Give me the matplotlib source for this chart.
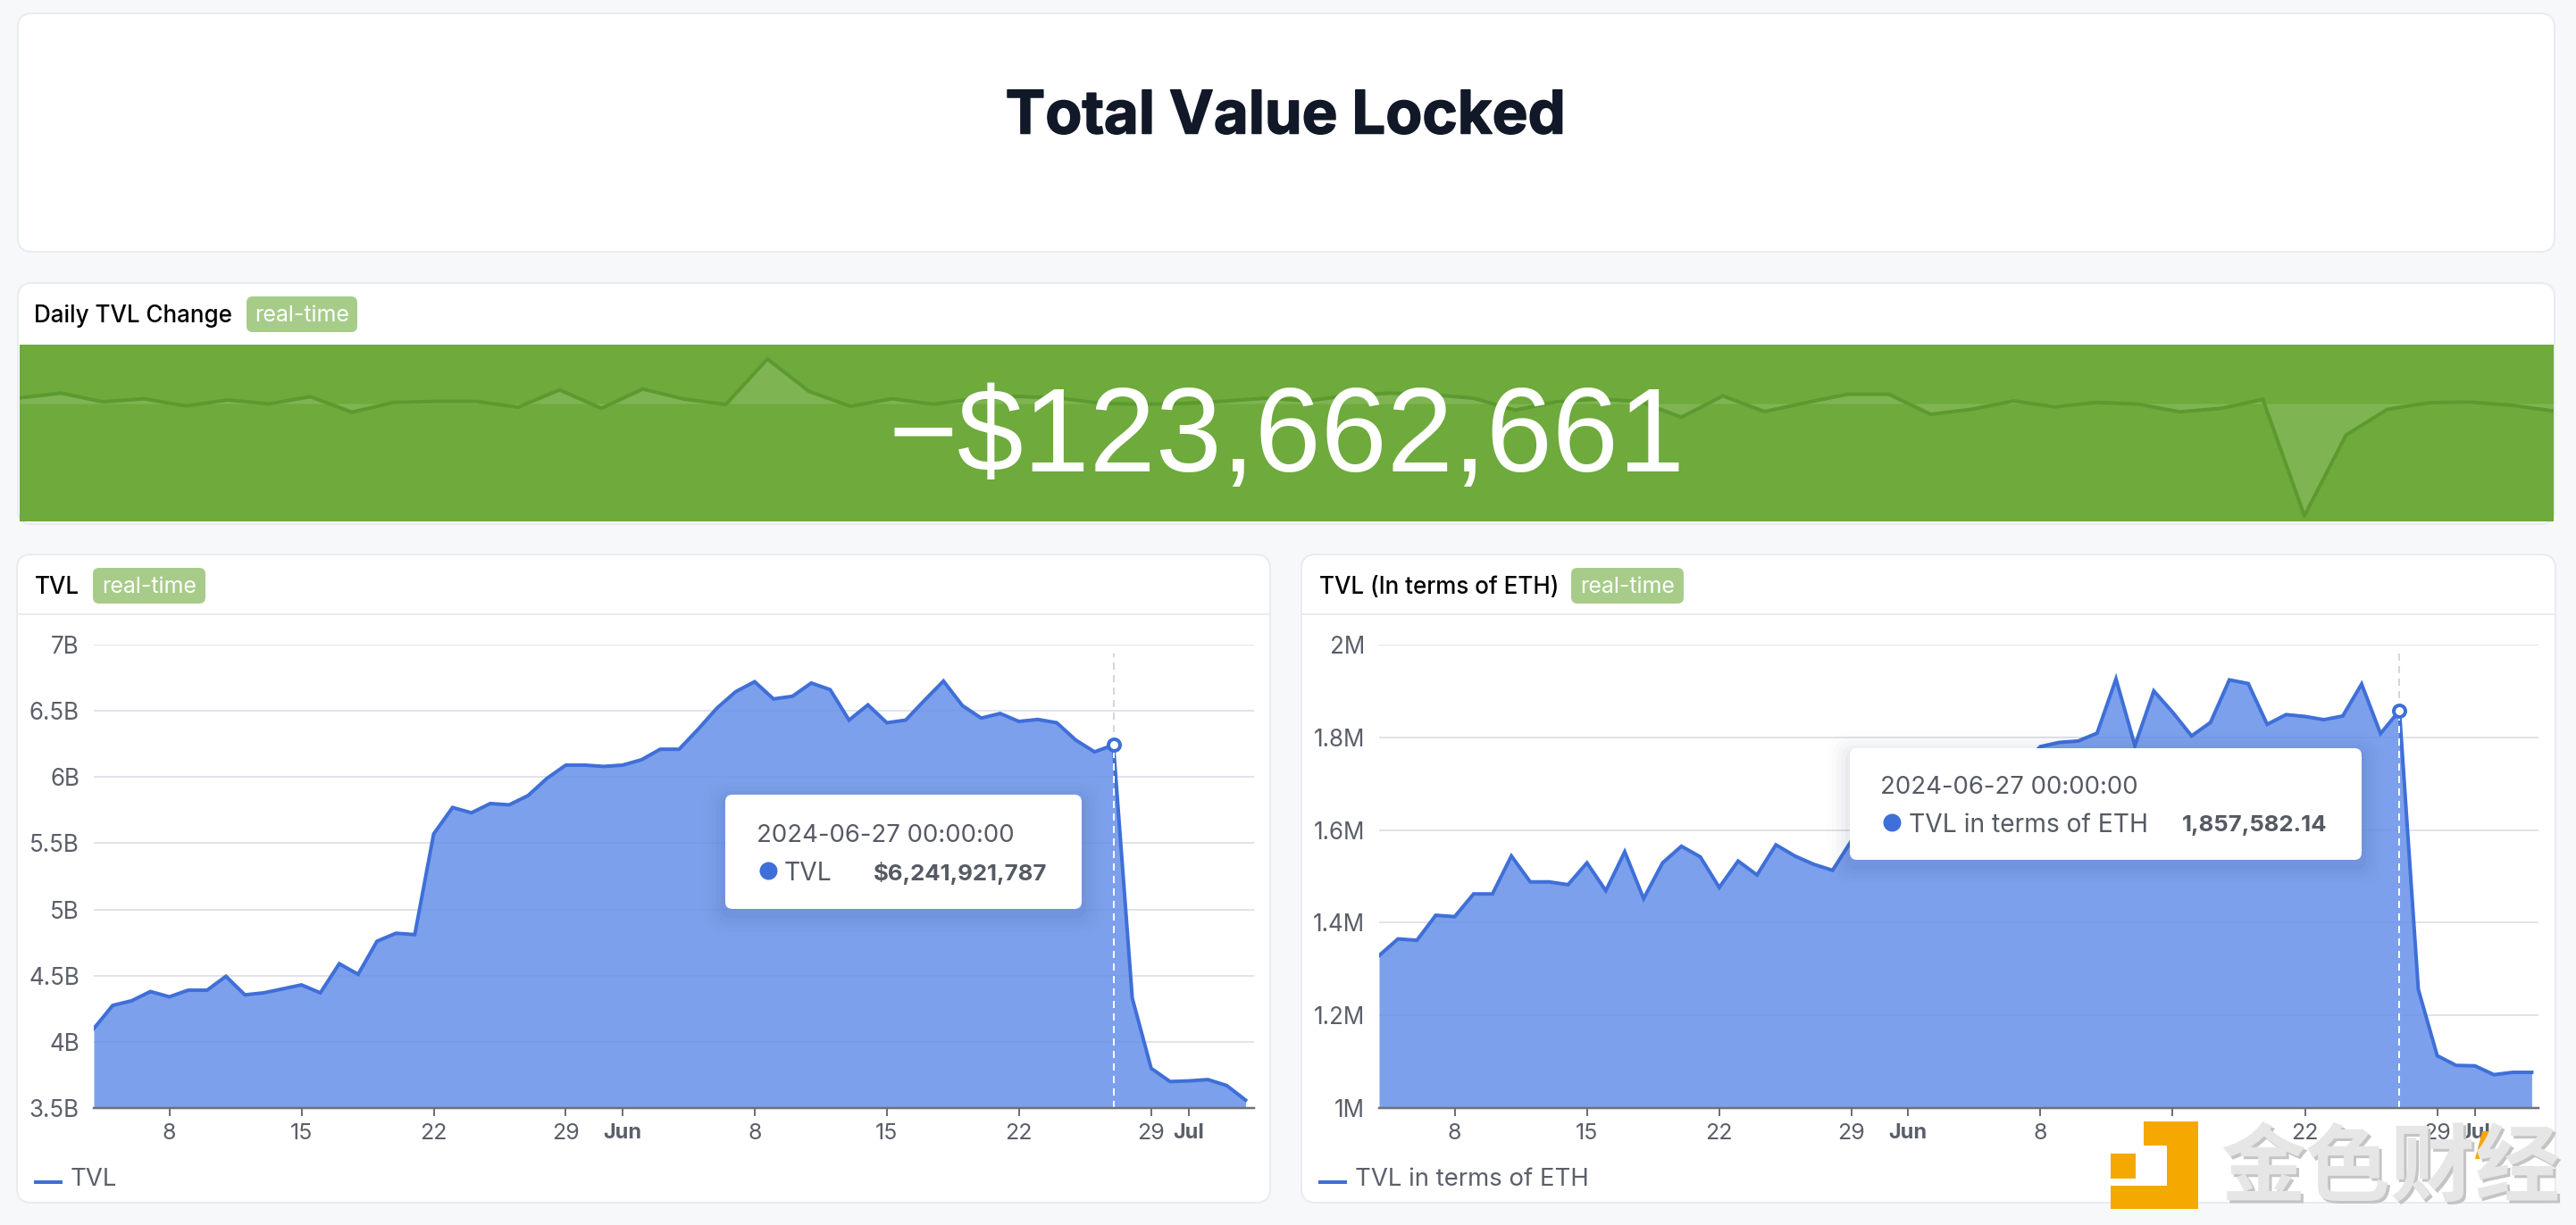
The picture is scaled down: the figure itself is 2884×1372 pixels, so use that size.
"""
Total Value Locked dashboard: one sparkline banner and two area charts.
"""

import matplotlib
matplotlib.use("Agg")
import matplotlib.patheffects as pe
import matplotlib.pyplot as plt
import pandas as pd
from matplotlib.patches import FancyBboxPatch, Polygon, Rectangle

W, H = 2884, 1372

plt.rcParams["font.family"] = ["Inter", "Noto Sans CJK SC", "DejaVu Sans"]

# ---------------------------------------------------------------------
#  Data
# ---------------------------------------------------------------------
dates = pd.date_range("2024-05-04", periods=62, freq="D")

# daily change, $M
daily_change = [
    96, 177, 30, 81, -40, 61, -5, 116, -146, 20, 35, 35, -61, 232, -81, 247,
    76, -15, 757, 207, -45, 81, -10, 81, 121, 96, 5, -10, 0, 40, 91, 45, 141,
    177, 152, 91, -111, 30, 76, 35, -232, 131, -136, 15, 157, 157, -182, -96,
    45, -55, 20, -10, -141, -81, 71, -1904, -535, -96, 15, 25, -30, -126,
]

# TVL, $B
tvl = [
    4.10, 4.275, 4.31, 4.38, 4.34, 4.39, 4.39, 4.495, 4.355, 4.37, 4.40, 4.43,
    4.37, 4.59, 4.51, 4.76, 4.82, 4.81, 5.57, 5.77, 5.73, 5.80, 5.79, 5.86,
    5.99, 6.09, 6.09, 6.08, 6.09, 6.13, 6.21, 6.21, 6.36, 6.52, 6.645, 6.72,
    6.59, 6.61, 6.71, 6.66, 6.43, 6.545, 6.41, 6.43, 6.58, 6.725, 6.54, 6.445,
    6.48, 6.42, 6.435, 6.41, 6.28, 6.19, 6.2419, 4.33, 3.80, 3.70, 3.705,
    3.715, 3.67, 3.56,
]

# TVL in ETH, millions (indices 26-35 sit behind the tooltip, so rough)
tvl_eth = [
    1.329, 1.365, 1.362, 1.416, 1.413, 1.462, 1.462, 1.544, 1.488, 1.488,
    1.482, 1.529, 1.469, 1.553, 1.452, 1.529, 1.565, 1.542, 1.476, 1.533,
    1.503, 1.568, 1.544, 1.526, 1.513, 1.577, 1.60, 1.65, 1.63, 1.66, 1.68,
    1.67, 1.70, 1.72, 1.74, 1.78, 1.789, 1.792, 1.809, 1.926, 1.782, 1.900,
    1.854, 1.803, 1.832, 1.924, 1.916, 1.828, 1.849, 1.845, 1.838, 1.846,
    1.915, 1.808, 1.8576, 1.256, 1.113, 1.092, 1.091, 1.072, 1.077, 1.077,
]

tvl_ticks = [3.5, 4, 4.5, 5, 5.5, 6, 6.5, 7]
tvl_tick_labels = ["3.5B", "4B", "4.5B", "5B", "5.5B", "6B", "6.5B", "7B"]
eth_ticks = [1, 1.2, 1.4, 1.6, 1.8, 2]
eth_tick_labels = ["1M", "1.2M", "1.4M", "1.6M", "1.8M", "2M"]

date_ticks = pd.to_datetime([
    "2024-05-08", "2024-05-15", "2024-05-22", "2024-05-29", "2024-06-01",
    "2024-06-08", "2024-06-15", "2024-06-22", "2024-06-29", "2024-07-01",
])
date_labels = ["8", "15", "22", "29", "Jun", "8", "15", "22", "29", "Jul"]
hover_date = pd.Timestamp("2024-06-27")

# ---------------------------------------------------------------------
#  Colours
# ---------------------------------------------------------------------
PAGE = "#f7f8fa"
BORDER = "#e9ebf0"
GREEN = "#6eaa3c"
SPARK = "#5c9a30"
BADGE = "#a7cc8a"
BLUE = "#3f6fd8"
FILL = "#6b93ea"
GRID = "#e0e3ea"
AXIS = "#6e7079"
TEXT = "#5a5f69"


def pt(px):
    return px * 0.72


fig = plt.figure(figsize=(W / 100, H / 100), dpi=100, facecolor=PAGE)

# pixel canvas for the cards, drawn under the charts
bg = fig.add_axes([0, 0, 1, 1], zorder=0)
bg.set_xlim(0, W)
bg.set_ylim(H, 0)
bg.axis("off")

# pixel canvas for tooltips and watermark, drawn over the charts
top = fig.add_axes([0, 0, 1, 1], zorder=5)
top.set_xlim(0, W)
top.set_ylim(H, 0)
top.axis("off")
top.patch.set_alpha(0)


def rounded(ax, x0, y0, x1, y1, radius, **kw):
    box = FancyBboxPatch((x0 + radius, y0 + radius),
                         x1 - x0 - 2 * radius, y1 - y0 - 2 * radius,
                         boxstyle=f"round,pad={radius},rounding_size={radius}",
                         **kw)
    ax.add_patch(box)


def card(x0, y0, x1, y1):
    rounded(bg, x0, y0, x1, y1, 16, facecolor="white", edgecolor=BORDER,
            linewidth=pt(2))


def header(x, y, title, badge_x0, badge_x1):
    bg.text(x, y + 3, title, fontsize=pt(26), fontweight="medium",
            color="black", ha="left", va="center")
    rounded(bg, badge_x0, y - 19, badge_x1, y + 21, 7, facecolor=BADGE,
            edgecolor="none")
    bg.text((badge_x0 + badge_x1) / 2, y + 3, "real-time", fontsize=pt(25),
            color="white", ha="center", va="center")


# ---------------------------------------------------------------------
#  Cards
# ---------------------------------------------------------------------
card(20, 15, 2860, 282)
bg.text(1439, 132, "Total Value Locked", fontsize=pt(67), fontweight="bold",
        color="#111827", ha="center", va="center",
        path_effects=[pe.withStroke(linewidth=pt(1.5), foreground="#111827")])

card(20, 317, 2860, 587)
header(38, 351, "Daily TVL Change", 276, 400)

card(19, 621, 1422, 1347)
bg.plot([21, 1420], [688, 688], color=BORDER, lw=pt(2))
header(39, 655, "TVL", 104, 230)

card(1457, 621, 2861, 1347)
bg.plot([1459, 2859], [688, 688], color=BORDER, lw=pt(2))
header(1477, 655, "TVL (In terms of ETH)", 1759, 1885)


# ---------------------------------------------------------------------
#  Banner
# ---------------------------------------------------------------------
def px_axes(x0, y0, x1, y1):
    return fig.add_axes([x0 / W, 1 - y1 / H, (x1 - x0) / W, (y1 - y0) / H],
                        zorder=1)


ax = px_axes(22, 386, 2859, 584)
ax.set_facecolor(GREEN)
ax.fill_between(dates, daily_change, 0, color="white", alpha=0.12, lw=0)
ax.plot(dates, daily_change, color=SPARK, lw=pt(4))
ax.set_xlim(dates[0], dates[-1])
ax.set_ylim(-2000, 1000)
ax.set_xticks([])
ax.set_yticks([])
for side in ax.spines.values():
    side.set_visible(False)
ax.text(0.5, 0.455, "\u2212$123,662,661", transform=ax.transAxes,
        family=["Liberation Sans"], fontsize=pt(133), color="white",
        ha="center", va="center", zorder=4)


# ---------------------------------------------------------------------
#  Area charts
# ---------------------------------------------------------------------
def area_chart(rect, values, ticks, labels, right_days, hover_value, name,
               legend_x):
    ax = px_axes(*rect)
    ax.patch.set_alpha(0)
    ax.fill_between(dates, values, ticks[0], color=FILL, alpha=0.88, lw=0,
                    zorder=2)
    ax.plot(dates, values, color=BLUE, lw=pt(4), zorder=3,
            solid_joinstyle="miter")

    # hover guide: grey above the point, white inside the fill
    guide_top = ticks[-1] - 0.02 * (ticks[-1] - ticks[0])
    ax.plot([hover_date, hover_date], [hover_value, guide_top],
            color="#d4d6da", lw=pt(2), ls=(0, (4, 3)), zorder=3)
    ax.plot([hover_date, hover_date], [ticks[0], hover_value],
            color="white", lw=pt(2), ls=(0, (4, 3)), zorder=4)
    ax.plot([hover_date], [hover_value], marker="o", ms=pt(13), mfc="white",
            mec=BLUE, mew=pt(4), zorder=5, clip_on=False)

    ax.set_xlim(dates[0], dates[0] + pd.Timedelta(days=right_days))
    ax.set_ylim(ticks[0], ticks[-1])
    ax.set_yticks(ticks)
    ax.set_yticklabels(labels)
    ax.set_xticks(date_ticks)
    ax.set_xticklabels(date_labels)

    ax.grid(axis="y", color=GRID, lw=pt(2), zorder=1)
    ax.set_axisbelow(True)
    ax.tick_params(axis="y", length=0, pad=pt(16), labelsize=pt(26),
                   labelcolor=TEXT)
    ax.tick_params(axis="x", length=pt(9), width=pt(2), color=AXIS, pad=pt(8),
                   labelsize=pt(25), labelcolor=TEXT)
    for lab, txt in zip(ax.get_xticklabels(), date_labels):
        if txt in ("Jun", "Jul"):
            lab.set_fontweight("bold")
            lab.set_fontsize(pt(23.5))
    for key in ("top", "right", "left"):
        ax.spines[key].set_visible(False)
    ax.spines["bottom"].set_color(AXIS)
    ax.spines["bottom"].set_linewidth(pt(2.5))
    ax.spines["bottom"].set_zorder(6)

    # legend
    bg.plot([legend_x, legend_x + 32], [1324, 1324], color=BLUE, lw=pt(4),
            solid_capstyle="butt")
    bg.text(legend_x + 41, 1321, name, fontsize=pt(27.5), color=TEXT,
            ha="left", va="center")
    return ax


area_chart((105, 722, 1404, 1241), tvl, tvl_ticks, tvl_tick_labels, 61.45,
           tvl[54], "TVL", 38)
area_chart((1544, 722, 2842, 1241), tvl_eth, eth_ticks, eth_tick_labels, 61.36,
           tvl_eth[54], "TVL in terms of ETH", 1476)


# ---------------------------------------------------------------------
#  Tooltips
# ---------------------------------------------------------------------
def tooltip(x0, y0, x1, y1, date_x, date_y, row_y, dot_x, name_x, value_x,
            name, value):
    for grow, alpha in ((26, 0.008), (20, 0.012), (15, 0.016), (10, 0.022),
                        (5, 0.03)):
        rounded(top, x0 - grow, y0 - grow + 6, x1 + grow, y1 + grow + 6,
                8 + grow, facecolor="#20304f", edgecolor="none", alpha=alpha)
    rounded(top, x0, y0, x1, y1, 8, facecolor="white", edgecolor="none")
    top.text(date_x, date_y + 3, "2024-06-27 00:00:00", fontsize=pt(27.5),
             color="#555a63", ha="left", va="center")
    top.plot([dot_x], [row_y], marker="o", ms=pt(20), color=BLUE, mew=0)
    top.text(name_x, row_y + 3, name, fontsize=pt(28.2), color="#555a63",
             ha="left", va="center")
    top.text(value_x, row_y + 3, value, fontsize=pt(25.8), fontweight="bold",
             color="#555a63", ha="right", va="center")


tooltip(812, 890, 1211, 1018, 847, 933, 975, 860, 878, 1172,
        "TVL", "$6,241,921,787")
tooltip(2071, 838, 2644, 963, 2105, 879, 921, 2118, 2137, 2605,
        "TVL in terms of ETH", "1,857,582.14")

# ---------------------------------------------------------------------
#  Watermark
# ---------------------------------------------------------------------
GOLD = "#f5a800"
top.add_patch(Rectangle((2400, 1256), 27, 27, color=GOLD, lw=0))
top.add_patch(Polygon([(2426, 1256), (2461, 1256), (2461, 1354), (2363, 1354),
                       (2363, 1328), (2426, 1328)], color=GOLD, lw=0))
top.add_patch(Rectangle((2363, 1292), 28, 28, color=GOLD, lw=0))

for dx, dy, col in ((3, 3, "#c4c4c4"), (0, 0, "#e6e6e6")):
    top.text(2676 + dx, 1310 + dy, "金色财经", family=["Noto Sans CJK SC"],
             fontsize=pt(95), fontweight="bold", color=col, ha="center",
             va="center")
top.add_patch(Polygon([(2779, 1267), (2798, 1267), (2786, 1298), (2771, 1298)],
                      color=GOLD, lw=0))

fig.savefig("out.png", dpi=100, facecolor=PAGE)
